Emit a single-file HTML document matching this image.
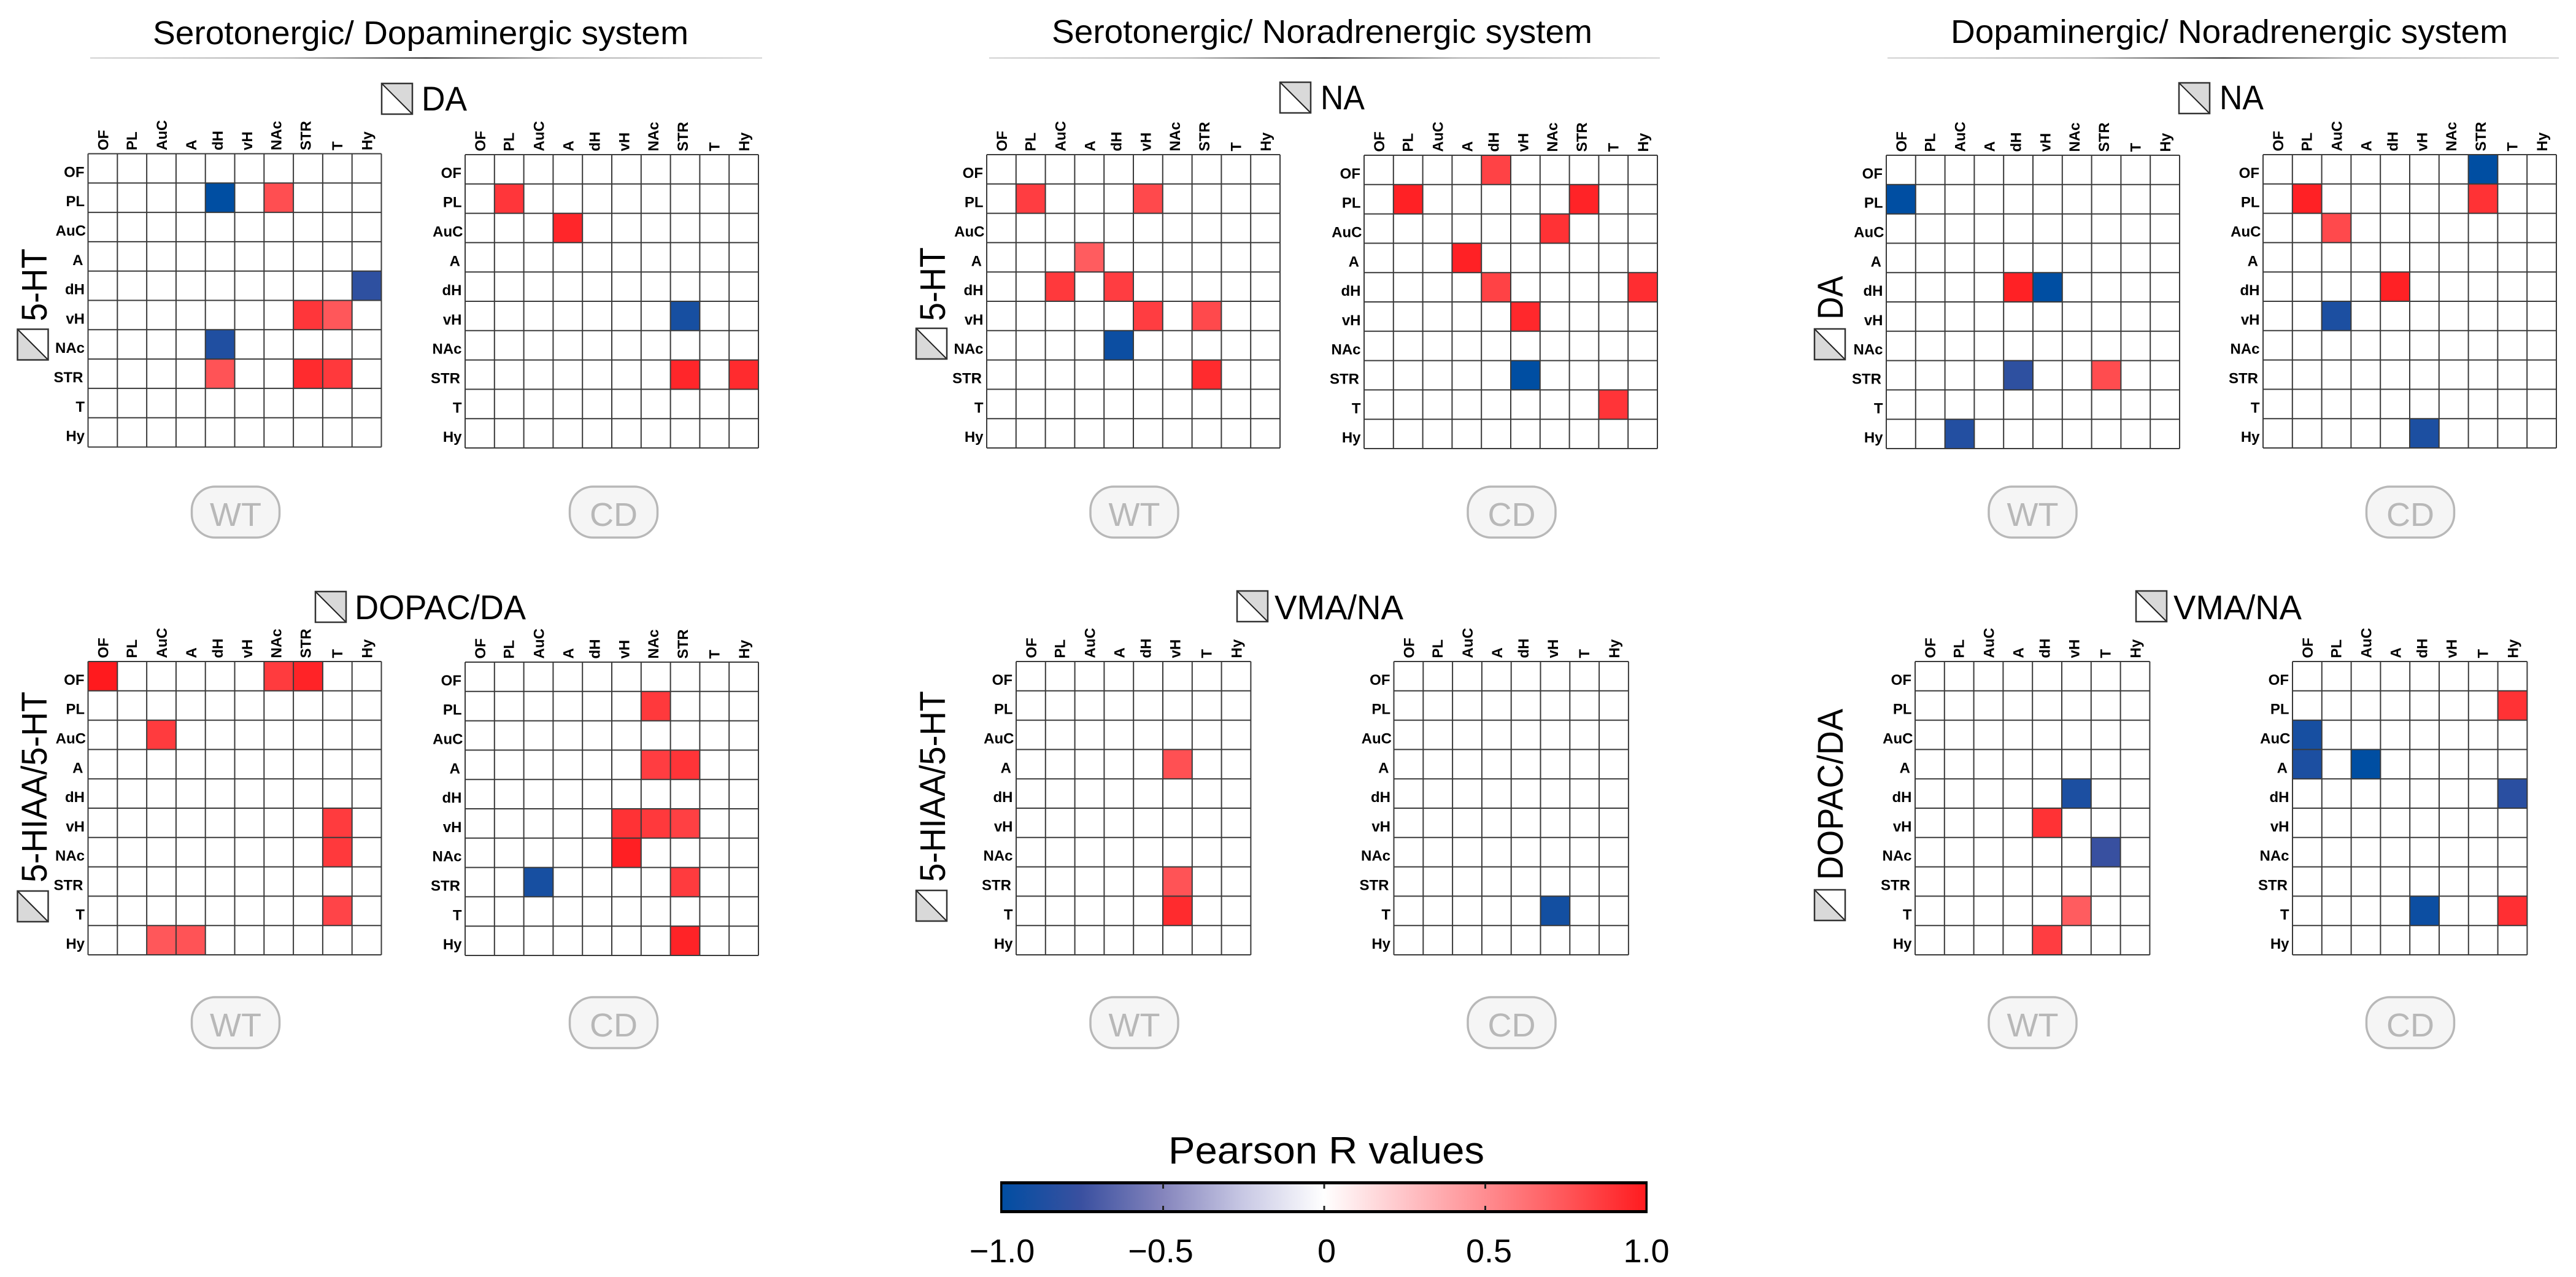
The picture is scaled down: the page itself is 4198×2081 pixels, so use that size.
<!DOCTYPE html>
<html lang="en">
<head>
<meta charset="utf-8">
<title>Pearson R correlation matrices</title>
<style>
html,body{margin:0;padding:0;background:#fff;}
svg{display:block;font-family:"Liberation Sans",Arial,sans-serif;}
</style>
</head>
<body>
<svg id="figure" xmlns="http://www.w3.org/2000/svg" width="4198" height="2081" viewBox="0 0 4198 2081">
<defs>
<linearGradient id="rule-gradient" x1="0" x2="1" y1="0" y2="0">
<stop offset="0" stop-color="#d0d0d0"/><stop offset="0.3" stop-color="#aaaaaa"/><stop offset="0.5" stop-color="#1c1c1c"/><stop offset="0.7" stop-color="#aaaaaa"/><stop offset="1" stop-color="#d0d0d0"/>
</linearGradient>
<linearGradient id="colorbar-gradient" x1="0" x2="1" y1="0" y2="0"></linearGradient>
<g id="icon-top">
<rect x="0" y="0" width="50" height="50" fill="#fff"/>
<polygon points="0,0 50,0 50,50" fill="#d9d9d9"/>
<line x1="0" y1="0" x2="50" y2="50" stroke="#222" stroke-width="2"/>
<rect x="0" y="0" width="50" height="50" fill="none" stroke="#333" stroke-width="2.5"/>
</g>
<g id="icon-left">
<rect x="0" y="0" width="50" height="50" fill="#fff"/>
<polygon points="0,0 0,50 50,50" fill="#d9d9d9"/>
<line x1="0" y1="0" x2="50" y2="50" stroke="#222" stroke-width="2"/>
<rect x="0" y="0" width="50" height="50" fill="none" stroke="#333" stroke-width="2.5"/>
</g>
</defs>
<rect x="0" y="0" width="4198" height="2081" fill="#fff"/>

<text x="249" y="72" font-size="54" textLength="873" lengthAdjust="spacingAndGlyphs">Serotonergic/ Dopaminergic system</text>
<text x="1714" y="70" font-size="54" textLength="881" lengthAdjust="spacingAndGlyphs">Serotonergic/ Noradrenergic system</text>
<text x="3179" y="70" font-size="54" textLength="908" lengthAdjust="spacingAndGlyphs">Dopaminergic/ Noradrenergic system</text>
<rect x="147" y="93.5" width="1095" height="2" fill="url(#rule-gradient)"/>
<rect x="1612" y="93.5" width="1093" height="2" fill="url(#rule-gradient)"/>
<rect x="3076" y="93.5" width="1094" height="2" fill="url(#rule-gradient)"/>

<use href="#icon-top" x="622" y="136"/>
<text x="687" y="180" font-size="56" textLength="74" lengthAdjust="spacingAndGlyphs">DA</text>
<use href="#icon-top" x="2086" y="134"/>
<text x="2152" y="178" font-size="56" textLength="72" lengthAdjust="spacingAndGlyphs">NA</text>
<use href="#icon-top" x="3551" y="135"/>
<text x="3617" y="178" font-size="56" textLength="72" lengthAdjust="spacingAndGlyphs">NA</text>
<use href="#icon-top" x="514" y="964"/>
<text x="578" y="1009" font-size="56" textLength="279" lengthAdjust="spacingAndGlyphs">DOPAC/DA</text>
<use href="#icon-top" x="2016" y="963"/>
<text x="2077" y="1009" font-size="56" textLength="210" lengthAdjust="spacingAndGlyphs">VMA/NA</text>
<use href="#icon-top" x="3481" y="963"/>
<text x="3542" y="1009" font-size="56" textLength="209" lengthAdjust="spacingAndGlyphs">VMA/NA</text>

<use href="#icon-left" x="28.5" y="536.5"/>
<text transform="translate(76,523.5) rotate(-90)" font-size="58" textLength="118.5" lengthAdjust="spacingAndGlyphs">5-HT</text>
<use href="#icon-left" x="1493" y="535"/>
<text transform="translate(1540,523) rotate(-90)" font-size="58" textLength="120" lengthAdjust="spacingAndGlyphs">5-HT</text>
<use href="#icon-left" x="2957" y="536"/>
<text transform="translate(3003,520.6) rotate(-90)" font-size="58" textLength="71" lengthAdjust="spacingAndGlyphs">DA</text>
<use href="#icon-left" x="28.5" y="1452"/>
<text transform="translate(76,1438) rotate(-90)" font-size="58" textLength="311" lengthAdjust="spacingAndGlyphs">5-HIAA/5-HT</text>
<use href="#icon-left" x="1493" y="1451"/>
<text transform="translate(1540,1437) rotate(-90)" font-size="58" textLength="311" lengthAdjust="spacingAndGlyphs">5-HIAA/5-HT</text>
<use href="#icon-left" x="2957" y="1450"/>
<text transform="translate(3003,1434) rotate(-90)" font-size="58" textLength="279" lengthAdjust="spacingAndGlyphs">DOPAC/DA</text>

<g id="panels"></g>

<g id="badges" font-size="54" fill="#b8b8b8" text-anchor="middle"></g>

<text x="1904" y="1896" font-size="62" textLength="515" lengthAdjust="spacingAndGlyphs">Pearson R values</text>
<g id="colorbar"></g>
</svg>

<script>
// Region labels
const regions = ["OF", "PL", "AuC", "A", "dH", "vH", "NAc", "STR", "T", "Hy"];
const regionsReduced = ["OF", "PL", "AuC", "A", "dH", "vH", "T", "Hy"];

// Colour scale
const scaleValues = [-1, -0.75, -0.5, -0.25, 0, 0.25, 0.5, 0.75, 1];
const scaleColors = ["#004ea2", "#3a50a0", "#8484bc", "#c8c8e4", "#ffffff", "#ffc4c8", "#ff8c90", "#ff5558", "#ff1a1e"];
const colorbarTicks = [-1, -0.5, 0, 0.5, 1];
const colorbarLabels = ["\u22121.0", "\u22120.5", "0", "0.5", "1.0"];

// Pearson R matrices (rows = regions, columns = regions or regionsReduced)
const serDaWT = [
 [0,0,0,0,0,0,0,0,0,0],
 [0,0,0,0,-1,0,.78,0,0,0],
 [0,0,0,0,0,0,0,0,0,0],
 [0,0,0,0,0,0,0,0,0,0],
 [0,0,0,0,0,0,0,0,0,-.8],
 [0,0,0,0,0,0,0,.88,.74,0],
 [0,0,0,0,-.86,0,0,0,0,0],
 [0,0,0,0,.76,0,0,.93,.87,0],
 [0,0,0,0,0,0,0,0,0,0],
 [0,0,0,0,0,0,0,0,0,0]];
const serDaCD = [
 [0,0,0,0,0,0,0,0,0,0],
 [0,.88,0,0,0,0,0,0,0,0],
 [0,0,0,.95,0,0,0,0,0,0],
 [0,0,0,0,0,0,0,0,0,0],
 [0,0,0,0,0,0,0,0,0,0],
 [0,0,0,0,0,0,0,-.9,0,0],
 [0,0,0,0,0,0,0,0,0,0],
 [0,0,0,0,0,0,0,.95,0,.93],
 [0,0,0,0,0,0,0,0,0,0],
 [0,0,0,0,0,0,0,0,0,0]];
const serNaWT = [
 [0,0,0,0,0,0,0,0,0,0],
 [0,.85,0,0,0,.8,0,0,0,0],
 [0,0,0,0,0,0,0,0,0,0],
 [0,0,0,.72,0,0,0,0,0,0],
 [0,0,.87,0,.85,0,0,0,0,0],
 [0,0,0,0,0,.85,0,.8,0,0],
 [0,0,0,0,-.95,0,0,0,0,0],
 [0,0,0,0,0,0,0,.93,0,0],
 [0,0,0,0,0,0,0,0,0,0],
 [0,0,0,0,0,0,0,0,0,0]];
const serNaCD = [
 [0,0,0,0,.83,0,0,0,0,0],
 [0,.97,0,0,0,0,0,.96,0,0],
 [0,0,0,0,0,0,.9,0,0,0],
 [0,0,0,.97,0,0,0,0,0,0],
 [0,0,0,0,.83,0,0,0,0,.92],
 [0,0,0,0,0,.94,0,0,0,0],
 [0,0,0,0,0,0,0,0,0,0],
 [0,0,0,0,0,-1,0,0,0,0],
 [0,0,0,0,0,0,0,0,.89,0],
 [0,0,0,0,0,0,0,0,0,0]];
const daNaWT = [
 [0,0,0,0,0,0,0,0,0,0],
 [-1,0,0,0,0,0,0,0,0,0],
 [0,0,0,0,0,0,0,0,0,0],
 [0,0,0,0,0,0,0,0,0,0],
 [0,0,0,0,.97,-1,0,0,0,0],
 [0,0,0,0,0,0,0,0,0,0],
 [0,0,0,0,0,0,0,0,0,0],
 [0,0,0,0,-.8,0,0,.79,0,0],
 [0,0,0,0,0,0,0,0,0,0],
 [0,0,-.85,0,0,0,0,0,0,0]];
const daNaCD = [
 [0,0,0,0,0,0,0,-1,0,0],
 [0,.97,0,0,0,0,0,.9,0,0],
 [0,0,.8,0,0,0,0,0,0,0],
 [0,0,0,0,0,0,0,0,0,0],
 [0,0,0,0,.97,0,0,0,0,0],
 [0,0,-.88,0,0,0,0,0,0,0],
 [0,0,0,0,0,0,0,0,0,0],
 [0,0,0,0,0,0,0,0,0,0],
 [0,0,0,0,0,0,0,0,0,0],
 [0,0,0,0,0,-.88,0,0,0,0]];
const hiaaDopacWT = [
 [1,0,0,0,0,0,.86,.96,0,0],
 [0,0,0,0,0,0,0,0,0,0],
 [0,0,.86,0,0,0,0,0,0,0],
 [0,0,0,0,0,0,0,0,0,0],
 [0,0,0,0,0,0,0,0,0,0],
 [0,0,0,0,0,0,0,0,.86,0],
 [0,0,0,0,0,0,0,0,.87,0],
 [0,0,0,0,0,0,0,0,0,0],
 [0,0,0,0,0,0,0,0,.82,0],
 [0,0,.74,.76,0,0,0,0,0,0]];
const hiaaDopacCD = [
 [0,0,0,0,0,0,0,0,0,0],
 [0,0,0,0,0,0,.87,0,0,0],
 [0,0,0,0,0,0,0,0,0,0],
 [0,0,0,0,0,0,.85,.89,0,0],
 [0,0,0,0,0,0,0,0,0,0],
 [0,0,0,0,0,.9,.87,.84,0,0],
 [0,0,0,0,0,.98,0,0,0,0],
 [0,0,-.9,0,0,0,0,.86,0,0],
 [0,0,0,0,0,0,0,0,0,0],
 [0,0,0,0,0,0,0,.96,0,0]];
const hiaaVmaWT = [
 [0,0,0,0,0,0,0,0],
 [0,0,0,0,0,0,0,0],
 [0,0,0,0,0,0,0,0],
 [0,0,0,0,0,.77,0,0],
 [0,0,0,0,0,0,0,0],
 [0,0,0,0,0,0,0,0],
 [0,0,0,0,0,0,0,0],
 [0,0,0,0,0,.76,0,0],
 [0,0,0,0,0,.93,0,0],
 [0,0,0,0,0,0,0,0]];
const hiaaVmaCD = [
 [0,0,0,0,0,0,0,0],
 [0,0,0,0,0,0,0,0],
 [0,0,0,0,0,0,0,0],
 [0,0,0,0,0,0,0,0],
 [0,0,0,0,0,0,0,0],
 [0,0,0,0,0,0,0,0],
 [0,0,0,0,0,0,0,0],
 [0,0,0,0,0,0,0,0],
 [0,0,0,0,0,-.92,0,0],
 [0,0,0,0,0,0,0,0]];
const dopacVmaWT = [
 [0,0,0,0,0,0,0,0],
 [0,0,0,0,0,0,0,0],
 [0,0,0,0,0,0,0,0],
 [0,0,0,0,0,0,0,0],
 [0,0,0,0,0,-.88,0,0],
 [0,0,0,0,.9,0,0,0],
 [0,0,0,0,0,0,-.76,0],
 [0,0,0,0,0,0,0,0],
 [0,0,0,0,0,.72,0,0],
 [0,0,0,0,.85,0,0,0]];
const dopacVmaCD = [
 [0,0,0,0,0,0,0,0],
 [0,0,0,0,0,0,0,.9],
 [-.9,0,0,0,0,0,0,0],
 [-.88,0,-1,0,0,0,0,0],
 [0,0,0,0,0,0,0,-.82],
 [0,0,0,0,0,0,0,0],
 [0,0,0,0,0,0,0,0],
 [0,0,0,0,0,0,0,0],
 [0,0,0,0,-.95,0,0,.91],
 [0,0,0,0,0,0,0,0]];

const SVGNS = "http://www.w3.org/2000/svg";
const CELL = 47.8;

function make(tag, parent) {
  const el = document.createElementNS(SVGNS, tag);
  parent.appendChild(el);
  return el;
}

function lerpChannel(a, b, t, shift) {
  const ca = (parseInt(a.slice(1), 16) >> shift) & 255;
  const cb = (parseInt(b.slice(1), 16) >> shift) & 255;
  return Math.round(ca + (cb - ca) * t);
}

function colorFor(v) {
  const clamped = Math.max(-1, Math.min(1, v));
  for (let i = 0; i < scaleValues.length - 1; i++) {
    if (clamped <= scaleValues[i + 1]) {
      const t = (clamped - scaleValues[i]) / (scaleValues[i + 1] - scaleValues[i]);
      const r = lerpChannel(scaleColors[i], scaleColors[i + 1], t, 16);
      const g = lerpChannel(scaleColors[i], scaleColors[i + 1], t, 8);
      const b = lerpChannel(scaleColors[i], scaleColors[i + 1], t, 0);
      return "rgb(" + r + "," + g + "," + b + ")";
    }
  }
  return scaleColors[scaleColors.length - 1];
}

// label placement tweaks per region, in px (presentation only)
function columnNudge(name) {
  if (name === "dH" || name === "vH" || name === "NAc" || name === "STR") return 4.5;
  if (name === "PL" || name === "T") return 8;
  return 9;
}
function rowNudge(name) {
  if (name === "OF") return 6;
  if (name === "AuC") return 3.5;
  if (name === "A" || name === "STR") return 8;
  return 5.5;
}

function drawPanel(panelName, matrix, columns, left, top) {
  const root = document.getElementById("panels");
  const g = make("g", root);
  
  
  const xScale = function (i) { return left + i * CELL; };
  const yScale = function (i) { return top + i * CELL; };

  matrix.forEach(function (row, r) {
    row.forEach(function (value, c) {
      const cell = make("rect", g);
      
      
      cell.setAttribute("x", xScale(c));
      cell.setAttribute("y", yScale(r));
      cell.setAttribute("width", CELL);
      cell.setAttribute("height", CELL);
      cell.setAttribute("fill", colorFor(value));
    });
  });

  for (let c = 0; c <= columns.length; c++) {
    const line = make("line", g);
    
    
    line.setAttribute("x1", xScale(c));
    line.setAttribute("x2", xScale(c));
    line.setAttribute("y1", yScale(0));
    line.setAttribute("y2", yScale(regions.length));
    line.setAttribute("stroke", "#3a3a3a");
    line.setAttribute("stroke-width", "2");
  }
  for (let r = 0; r <= regions.length; r++) {
    const line = make("line", g);
    
    
    line.setAttribute("x1", xScale(0));
    line.setAttribute("x2", xScale(columns.length));
    line.setAttribute("y1", yScale(r));
    line.setAttribute("y2", yScale(r));
    line.setAttribute("stroke", "#3a3a3a");
    line.setAttribute("stroke-width", "2");
  }

  columns.forEach(function (name, c) {
    const t = make("text", g);
    
    
    const bx = xScale(c) + CELL / 2 + columnNudge(name);
    t.setAttribute("transform", "translate(" + bx + "," + (top - 5.5) + ") rotate(-90)");
    t.setAttribute("font-size", "24");
    t.setAttribute("font-weight", "bold");
    t.textContent = name;
  });
  regions.forEach(function (name, r) {
    const t = make("text", g);
    
    
    t.setAttribute("x", left - rowNudge(name));
    t.setAttribute("y", yScale(r) + CELL / 2 + 14);
    t.setAttribute("text-anchor", "end");
    t.setAttribute("font-size", "24");
    t.setAttribute("font-weight", "bold");
    t.textContent = name;
  });
}

function drawBadge(label, cx, top) {
  const root = document.getElementById("badges");
  const rect = make("rect", root);
  
  
  rect.setAttribute("x", cx - 71.5);
  rect.setAttribute("y", top);
  rect.setAttribute("width", 143);
  rect.setAttribute("height", 83);
  rect.setAttribute("rx", 38);
  rect.setAttribute("ry", 38);
  rect.setAttribute("fill", "#f5f5f5");
  rect.setAttribute("stroke", "#b8b8b8");
  rect.setAttribute("stroke-width", "3.5");
  const t = make("text", root);
  
  
  t.setAttribute("x", cx);
  t.setAttribute("y", top + 64);
  t.textContent = label;
}

function drawColorbar() {
  const left = 1630, right = 2685, barTop = 1925, barBottom = 1977;
  const xOf = function (v) { return 2158 + v * 525; };
  const grad = document.getElementById("colorbar-gradient");
  scaleValues.forEach(function (v, i) {
    const stop = make("stop", grad);
    stop.setAttribute("offset", (v + 1) / 2);
    stop.setAttribute("stop-color", scaleColors[i]);
  });
  const root = document.getElementById("colorbar");
  const bar = make("rect", root);
  
  
  bar.setAttribute("x", left);
  bar.setAttribute("y", barTop);
  bar.setAttribute("width", right - left);
  bar.setAttribute("height", barBottom - barTop);
  bar.setAttribute("fill", "url(#colorbar-gradient)");
  const frame = [
    [left, barTop, right - left, 5],
    [left, barBottom - 5, right - left, 5],
    [left, barTop, 3.5, barBottom - barTop],
    [right - 3.5, barTop, 3.5, barBottom - barTop]
  ];
  frame.forEach(function (f) {
    const edge = make("rect", root);
    
    
    edge.setAttribute("x", f[0]);
    edge.setAttribute("y", f[1]);
    edge.setAttribute("width", f[2]);
    edge.setAttribute("height", f[3]);
    edge.setAttribute("fill", "#000");
  });
  colorbarTicks.forEach(function (v, i) {
    if (v > -1 && v < 1) {
      const up = make("rect", root);
      
      
      up.setAttribute("x", xOf(v) - 1.5);
      up.setAttribute("y", barTop + 4);
      up.setAttribute("width", 3);
      up.setAttribute("height", 8);
      up.setAttribute("fill", "#222");
      const down = make("rect", root);
      
      
      down.setAttribute("x", xOf(v) - 1.5);
      down.setAttribute("y", barBottom - 12);
      down.setAttribute("width", 3);
      down.setAttribute("height", 8);
      down.setAttribute("fill", "#222");
    }
    const label = make("text", root);
    
    
    label.setAttribute("x", xOf(v) + (v === 0 ? 4 : v === 0.5 ? 6 : v === -0.5 ? -4 : 0));
    label.setAttribute("y", 2057);
    label.setAttribute("text-anchor", "middle");
    label.setAttribute("font-size", "54");
    label.textContent = colorbarLabels[i];
  });
}

drawPanel("heatmap-serotonin-dopamine-wt", serDaWT, regions, 143.5, 250.5);
drawPanel("heatmap-serotonin-dopamine-cd", serDaCD, regions, 758, 252);
drawPanel("heatmap-serotonin-noradrenaline-wt", serNaWT, regions, 1608, 252);
drawPanel("heatmap-serotonin-noradrenaline-cd", serNaCD, regions, 2223, 253);
drawPanel("heatmap-dopamine-noradrenaline-wt", daNaWT, regions, 3074, 253);
drawPanel("heatmap-dopamine-noradrenaline-cd", daNaCD, regions, 3688, 252);
drawPanel("heatmap-hiaa-dopac-wt", hiaaDopacWT, regions, 143.5, 1078);
drawPanel("heatmap-hiaa-dopac-cd", hiaaDopacCD, regions, 758, 1079);
drawPanel("heatmap-hiaa-vma-wt", hiaaVmaWT, regionsReduced, 1656, 1078);
drawPanel("heatmap-hiaa-vma-cd", hiaaVmaCD, regionsReduced, 2271.5, 1078);
drawPanel("heatmap-dopac-vma-wt", dopacVmaWT, regionsReduced, 3121, 1078);
drawPanel("heatmap-dopac-vma-cd", dopacVmaCD, regionsReduced, 3736, 1078);

drawBadge("WT", 384, 793);
drawBadge("CD", 1000, 793);
drawBadge("WT", 1848.5, 793);
drawBadge("CD", 2463.5, 793);
drawBadge("WT", 3312.5, 793);
drawBadge("CD", 3928, 793);
drawBadge("WT", 384, 1625);
drawBadge("CD", 1000, 1625);
drawBadge("WT", 1848.5, 1625);
drawBadge("CD", 2463.5, 1625);
drawBadge("WT", 3312.5, 1625);
drawBadge("CD", 3928, 1625);

drawColorbar();
</script>
</body>
</html>
